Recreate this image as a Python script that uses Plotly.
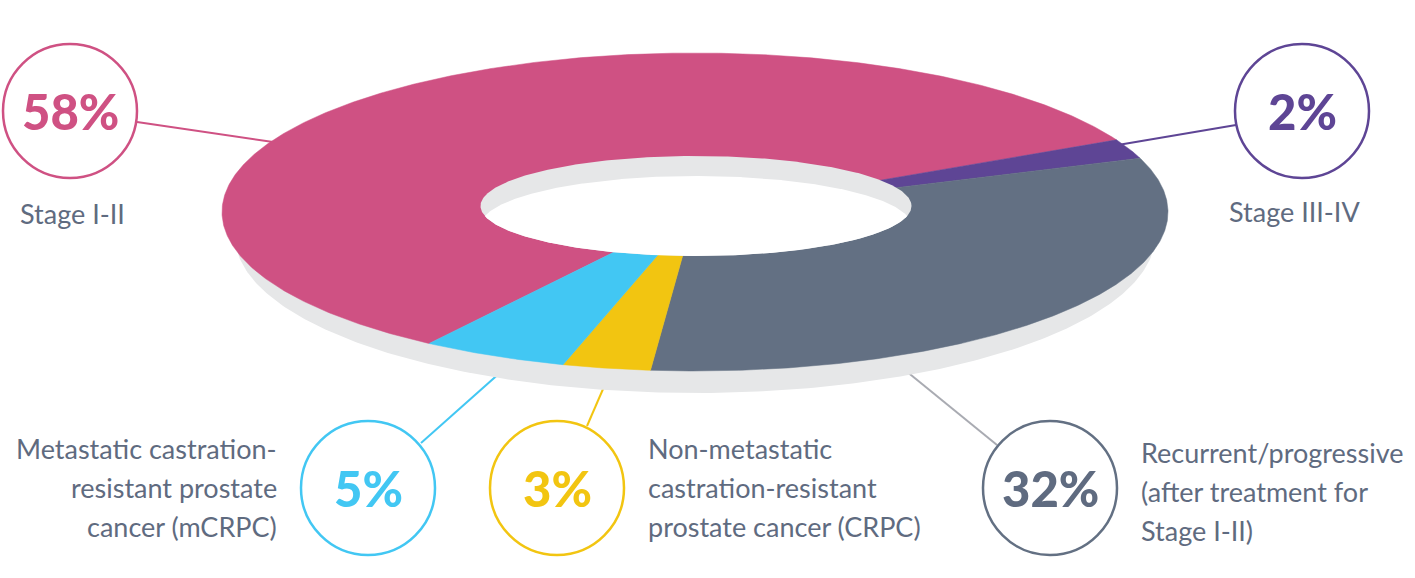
import numpy as np
import plotly.graph_objects as go

# ---------------- data ----------------
categories = [
    "Stage I-II",
    "Stage III-IV",
    "Recurrent/progressive (after treatment for Stage I-II)",
    "Non-metastatic castration-resistant prostate cancer (CRPC)",
    "Metastatic castration-resistant prostate cancer (mCRPC)",
]
values = [58, 2, 32, 3, 5]
label_lines = [
    ["Stage I-II"],
    ["Stage III-IV"],
    ["Recurrent/progressive", "(after treatment for", "Stage I-II)"],
    ["Non-metastatic", "castration-resistant", "prostate cancer (CRPC)"],
    ["Metastatic castration-", "resistant prostate", "cancer (mCRPC)"],
]

# ---------------- style / layout ----------------
colors = ["#cf5183", "#5e4595", "#637083", "#f2c511", "#42c7f3"]
pct_colors = ["#cf5183", "#5e4595", "#5f6b80", "#f2c511", "#42c7f3"]
line_colors = ["#cf5183", "#5e4595", "#a9abb2", "#f2c511", "#42c7f3"]
TEXT = "#5f6b80"
SIDE = "#e6e7e8"
FONT = "Lato"

W, H = 1415, 578
CX, CY, A, B = 695, 212, 473, 159          # top face ellipse
SX, SY, SA, SB = 695, 236, 460, 157        # side / thickness
HX, HY, HA, HB, HOFF = 696, 206, 215.5, 50, 20  # hole
START = 235.8  # parametric angle (deg) where the first slice starts, clockwise

# circle badges: (cx, cy) and leader line (from, to)
badges = [(70, 111), (1302, 111), (1050, 488), (557, 488), (368, 488)]
R = 67
leaders = [((280, 143), (137, 122)),
           ((1112, 146), (1236, 125)),
           ((884, 353), (997, 445)),
           ((613, 366), (587, 426)),
           ((520, 355), (421, 443))]
# label anchors: (x, first baseline, xanchor)
label_pos = [(18, 222, "left"), (1362, 220, "right"), (1139, 461, "left"),
             (646, 457, "left"), (279, 457, "right")]
LINE_H = 39
FS = 27

fig = go.Figure()

# side / shadow
t = np.linspace(0, 2 * np.pi, 500)
fig.add_trace(go.Scatter(x=SX + SA * np.cos(t), y=SY + SB * np.sin(t), mode="lines",
                         fill="toself", fillcolor=SIDE, line=dict(width=0, color=SIDE),
                         hoverinfo="skip", showlegend=False))

# slices
total = sum(values)
cum = START
for v, c, name in zip(values, colors, categories):
    span = 360.0 * v / total
    ang = np.radians(np.linspace(cum, cum - span, max(int(span * 3), 6)))
    xs = np.concatenate([[CX], CX + A * np.cos(ang), [CX]])
    ys = np.concatenate([[CY], CY - B * np.sin(ang), [CY]])
    fig.add_trace(go.Scatter(x=xs, y=ys, mode="lines", fill="toself", fillcolor=c,
                             line=dict(width=0.5, color=c), name=name,
                             hoverinfo="name", showlegend=False))
    cum -= span

# hole: inner wall (grey) + visible white bottom
fig.add_trace(go.Scatter(x=HX + HA * np.cos(t), y=HY + HB * np.sin(t), mode="lines",
                         fill="toself", fillcolor=SIDE, line=dict(width=0, color=SIDE),
                         hoverinfo="skip", showlegend=False))
s_min = (HOFF / 2) / HB
u = np.linspace(-np.sqrt(1 - s_min ** 2), np.sqrt(1 - s_min ** 2), 400)
s = np.sqrt(1 - u ** 2)
xw = HX + HA * u
top = HY + HOFF - HB * s
bot = HY + HB * s
fig.add_trace(go.Scatter(x=np.concatenate([xw, xw[::-1]]), y=np.concatenate([top, bot[::-1]]),
                         mode="lines", fill="toself", fillcolor="white",
                         line=dict(width=0, color="white"), hoverinfo="skip", showlegend=False))

shapes = []
annotations = []
for i in range(len(values)):
    (x0, y0), (x1, y1) = leaders[i]
    shapes.append(dict(type="line", x0=x0, y0=y0, x1=x1, y1=y1, xref="x", yref="y",
                       line=dict(color=line_colors[i], width=2), layer="below"))
    bx, by = badges[i]
    shapes.append(dict(type="circle", x0=bx - R, x1=bx + R, y0=by - R, y1=by + R,
                       xref="x", yref="y", fillcolor="white",
                       line=dict(color=pct_colors[i] if i != 2 else "#637083", width=2.5),
                       layer="above"))
    annotations.append(dict(x=bx, y=by, xref="x", yref="y", text=f"{values[i]}%",
                            showarrow=False, xanchor="center", yanchor="middle",
                            font=dict(family=FONT, size=49, color=pct_colors[i], weight=900)))
    lx, ly, anc = label_pos[i]
    for j, ln in enumerate(label_lines[i]):
        annotations.append(dict(x=lx, y=ly + j * LINE_H - 9, xref="x", yref="y", text=ln,
                                showarrow=False, xanchor=anc, yanchor="middle",
                                font=dict(family=FONT, size=FS, color=TEXT)))

fig.update_layout(
    width=W, height=H, margin=dict(l=0, r=0, t=0, b=0),
    paper_bgcolor="white", plot_bgcolor="white",
    xaxis=dict(range=[0, W], visible=False, fixedrange=True),
    yaxis=dict(range=[H, 0], visible=False, fixedrange=True),
    shapes=shapes, annotations=annotations, showlegend=False,
)
fig.write_html("out.html", config={"displayModeBar": False},
               post_script="document.body.style.margin='0';document.body.style.overflow='hidden';")
